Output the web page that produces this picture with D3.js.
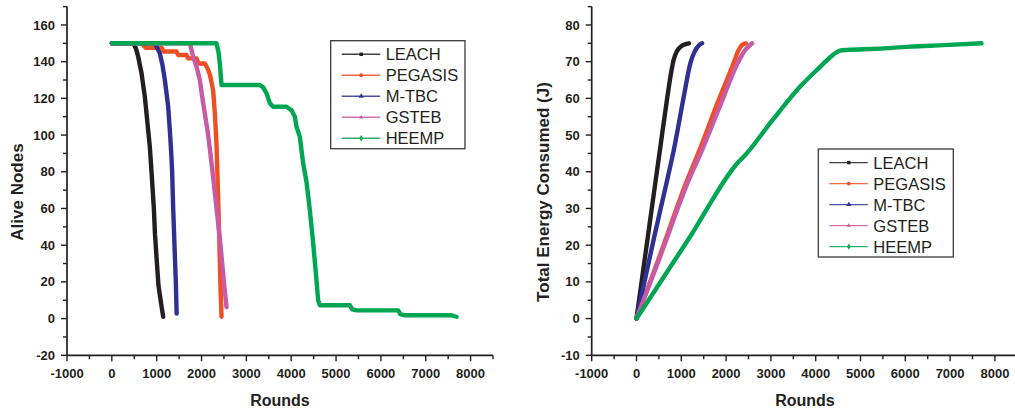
<!DOCTYPE html>
<html><head><meta charset="utf-8">
<script src="https://cdn.jsdelivr.net/npm/d3@7"></script>
<style>
html,body{margin:0;padding:0;background:#fff;}
svg{display:block;}
text{font-family:"Liberation Sans",Arial,Helvetica,sans-serif;fill:#231f20;}
</style></head>
<body>
<svg id="c" width="1015" height="412"></svg>
<script>
// ---------- data ----------
const seriesNames = ["LEACH","PEGASIS","M-TBC","GSTEB","HEEMP"];
const seriesColors = ["#231f20","#f04e23","#2e3192","#c85aa6","#00a651"];
const seriesSymbols = ["square","circle","triangle","triangleDown","diamond"];

// Left chart: Alive nodes vs rounds  [round, nodes]
const aliveLEACH = [[0,150],[476,150],[540,147],[588,142.7],[662,133.7],[736,120.9],[810,102.7],[847,93.6],[885,80],[937,60],[962,46],[1000,32],[1040,18],[1100,8],[1145,1]];
const alivePEGASIS = [[0,150],[650,150],[700,149],[760,147.5],[1110,147.5],[1160,145.5],[1440,145.5],[1480,143.6],[1665,143.6],[1700,141.8],[1890,141.8],[1930,139],[2074,139],[2140,136],[2186,133],[2230,128],[2260,124],[2297,112],[2334,95],[2360,75],[2393,46],[2420,20],[2446,1]];
const aliveMTBC = [[0,150],[950,150],[1000,148],[1070,144.6],[1130,138],[1182,130],[1257,115.4],[1300,100],[1325,90],[1345,80],[1368,60],[1397,40],[1427,20],[1445,2.7]];
const aliveGSTEB = [[0,150],[1740,150],[1780,146],[1814,142.7],[1888,137.3],[1963,130],[2020,120],[2074,111.8],[2148,100],[2246,80],[2335,60],[2424,40],[2498,20],[2557,6.3]];
const aliveHEEMP = [[0,150],[2334,150],[2380,145],[2408,139],[2446,127.3],[3300,127.3],[3375,126],[3450,122.7],[3524,117.3],[3598,115.4],[3895,115.4],[3950,114.5],[4006,113.6],[4081,110],[4118,104.5],[4193,99],[4267,84.5],[4341,74.5],[4416,59],[4490,40.9],[4564,20.9],[4600,10],[4639,7.3],[5308,7.3],[5360,5],[5457,4.5],[6385,4.5],[6430,2.5],[6534,1.8],[7576,1.8],[7687,1]];

// Right chart: Total energy consumed vs rounds [round, J]
const energyLEACH = [[0,0],[200,17.6],[423,37.2],[535,47],[689,60.4],[770,66.8],[830,70.5],[900,72.8],[980,74],[1080,74.7],[1170,75]];
const energyPEGASIS = [[0,0],[500,16.5],[1114,37.2],[1426,46.5],[1800,58.5],[2168,69.6],[2273,73],[2360,74.6],[2440,75]];
const energyMTBC = [[0,0],[400,22.5],[684,37.7],[832,45.9],[1054,60.4],[1203,69.6],[1300,72.8],[1400,74.5],[1464,75]];
const energyGSTEB = [[0,0],[500,16],[1166,37.7],[1463,45.9],[1850,57.5],[2257,69.6],[2429,73.2],[2578,75]];
const energyHEEMP = [[0,0],[1159,21.6],[2317,43.2],[2391,44.1],[3000,53.5],[3654,63.2],[4100,68.6],[4350,71.5],[4545,73],[4700,73.2],[5364,73.5],[6107,74.1],[6850,74.5],[7700,75]];

const xTicks = [-1000,0,1000,2000,3000,4000,5000,6000,7000,8000];
const leftYTicks = [-20,0,20,40,60,80,100,120,140,160];
const rightYTicks = [-10,0,10,20,30,40,50,60,70,80];

// ---------- drawing ----------
const svg = d3.select("#c");
const symMap = {square:d3.symbolSquare,circle:d3.symbolCircle,triangle:d3.symbolTriangle,triangleDown:d3.symbolTriangle2,diamond:d3.symbolDiamond};

function panel(cfg){
  const g = svg.append("g");
  const x = d3.scaleLinear().domain(cfg.xDomain).range(cfg.xRange);
  const y = d3.scaleLinear().domain(cfg.yDomain).range(cfg.yRange);
  const x0 = cfg.xRange[0], y0 = cfg.yRange[0];

  g.append("line").attr("x1",x0).attr("x2",x0).attr("y1",cfg.yRange[1]).attr("y2",y0)
    .attr("stroke","#231f20").attr("stroke-width",1.7);
  g.append("line").attr("x1",x0).attr("x2",cfg.xRange[1]).attr("y1",y0).attr("y2",y0)
    .attr("stroke","#231f20").attr("stroke-width",1.7);

  const xMinor = d3.range(cfg.xDomain[0], cfg.xDomain[1]+1, 500);
  xMinor.forEach(v=>{
    const major = v % 1000 === 0;
    g.append("line").attr("x1",x(v)).attr("x2",x(v)).attr("y1",y0).attr("y2",y0+(major?6:4))
      .attr("stroke","#231f20").attr("stroke-width",1.4);
  });
  xTicks.forEach(v=>{
    g.append("text").attr("x",x(v)).attr("y",y0+22.5).attr("text-anchor","middle")
      .attr("font-size",13).attr("font-weight","bold").text(v);
  });
  const step = cfg.yStep;
  const yMinor = d3.range(cfg.yDomain[0], cfg.yDomain[1]+0.001, step/2);
  yMinor.forEach(v=>{
    const major = Math.abs((v - cfg.yDomain[0]) % step) < 1e-6;
    g.append("line").attr("x1",x0).attr("x2",x0-(major?6:4)).attr("y1",y(v)).attr("y2",y(v))
      .attr("stroke","#231f20").attr("stroke-width",1.4);
  });
  cfg.yTicks.forEach(v=>{
    g.append("text").attr("x",x0-12).attr("y",y(v)).attr("dy","0.35em").attr("text-anchor","end")
      .attr("font-size",13).attr("font-weight","bold").text(v);
  });
  g.append("text").attr("x",cfg.xTitleX).attr("y",405.5).attr("text-anchor","middle")
    .attr("font-size",16).attr("font-weight","bold").text("Rounds");
  g.append("text").attr("transform",`translate(${cfg.yTitleX},192) rotate(-90)`)
    .attr("dy","0.35em").attr("text-anchor","middle")
    .attr("font-size",17).attr("font-weight","bold").text(cfg.yTitle);

  const line = d3.line().x(d=>x(d[0])).y(d=>y(d[1])).curve(cfg.curve);
  cfg.data.forEach((d,i)=>{
    g.append("path").datum(d).attr("d",line).attr("fill","none")
      .attr("stroke",seriesColors[i]).attr("stroke-width",4.4)
      .attr("stroke-linejoin","round").attr("stroke-linecap","round");
  });

  const L = cfg.legend;
  g.append("rect").attr("x",L.x).attr("y",L.y).attr("width",L.w).attr("height",L.h)
    .attr("fill","#fff").attr("stroke","#3a3a3a").attr("stroke-width",1.3);
  seriesNames.forEach((n,i)=>{
    const yy = L.y + 13.6 + i*21;
    g.append("line").attr("x1",L.x+11).attr("x2",L.x+49.5).attr("y1",yy).attr("y2",yy)
      .attr("stroke",seriesColors[i]).attr("stroke-width",1.4).attr("opacity",0.85);
    g.append("path").attr("d",d3.symbol().type(symMap[seriesSymbols[i]]).size(12)())
      .attr("transform",`translate(${L.x+30.5},${yy})`).attr("fill",seriesColors[i]);
    g.append("text").attr("x",L.x+55).attr("y",yy).attr("dy","0.36em")
      .attr("font-size",16.5).text(n);
  });
}

panel({
  xDomain:[-1000,8500], xRange:[67,493],
  yDomain:[-20,170], yRange:[355.3,6.6], yStep:20, yTicks:leftYTicks,
  yTitle:"Alive Nodes", yTitleX:17, xTitleX:280,
  curve:d3.curveLinear,
  data:[aliveLEACH,alivePEGASIS,aliveMTBC,aliveGSTEB,aliveHEEMP],
  legend:{x:330.7,y:40.7,w:134.3,h:108}
});
panel({
  xDomain:[-1000,8500], xRange:[591.7,1017.3],
  yDomain:[-10,85], yRange:[355.3,6.6], yStep:10, yTicks:rightYTicks,
  yTitle:"Total Energy Consumed (J)", yTitleX:543, xTitleX:805,
  curve:d3.curveMonotoneX,
  data:[energyLEACH,energyPEGASIS,energyMTBC,energyGSTEB,energyHEEMP],
  legend:{x:818.3,y:149,w:135,h:108}
});
</script>
</body></html>
